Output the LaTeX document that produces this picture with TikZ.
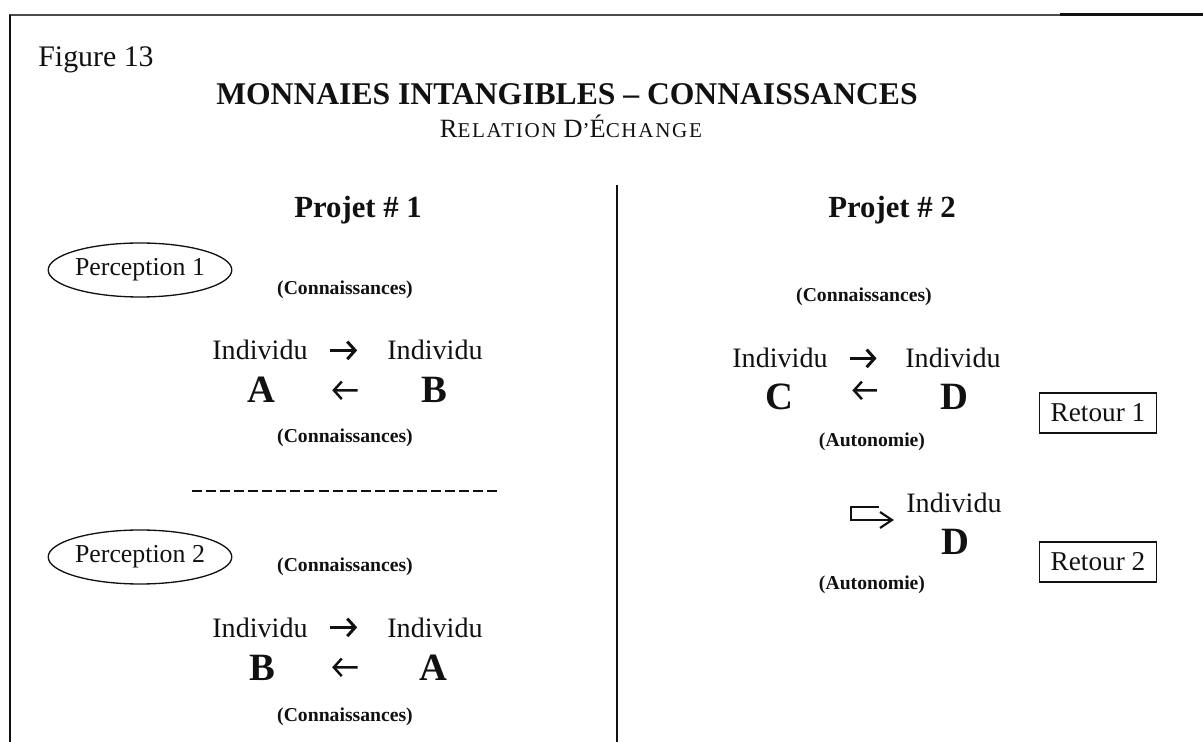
\documentclass[tikz,border=0pt]{standalone}
\usepackage{fontspec}
\setmainfont{Liberation Serif}
\newfontfamily\subfont[LetterSpace=8]{Liberation Serif}
\usepackage{xcolor}
\usetikzlibrary{positioning, arrows.meta, shapes.geometric}
\definecolor{fgInk}{HTML}{111111}
\definecolor{fgRule}{HTML}{4A4A4A}
\newcommand{\capBig}[1]{{\subfont\fontsize{15}{17}\selectfont #1}}
\newcommand{\capSml}[1]{{\subfont\fontsize{12}{14}\selectfont #1}}
\tikzset{
  lbl/.style ={inner sep=0pt, text=fgInk},
  ttl/.style ={lbl, font=\fontsize{18}{20}\selectfont\bfseries},
  proj/.style={lbl, font=\fontsize{17.5}{20}\selectfont\bfseries},
  ind/.style ={lbl, font=\fontsize{16}{18}\selectfont},
  who/.style ={lbl, font=\fontsize{22}{24}\selectfont\bfseries},
  kn/.style  ={lbl, font=\fontsize{11.2}{13}\selectfont\bfseries},
  perc/.style={ellipse, draw=fgInk, line width=0.75pt, minimum width=3.4cm, minimum height=1.08cm,
               inner sep=0pt, text=fgInk, font=\fontsize{14.7}{16}\selectfont},
  ret/.style ={draw=fgInk, line width=0.6pt, minimum width=2.34cm, minimum height=0.8cm,
               inner sep=0pt, text=fgInk, font=\fontsize{15.5}{17}\selectfont},
  fwd/.style ={-{Straight Barb[length=4.5pt,width=10pt]}, line width=1.7pt, fgInk},
  bwd/.style ={-{Straight Barb[length=4.5pt,width=10pt]}, line width=1.4pt, fgInk},
}

\begin{document}
\begin{tikzpicture}[x=0.02cm, y=-0.02cm]
\useasboundingbox (0,0) rectangle (1203,742);

% frame and separators
\draw[fgRule, line width=0.9pt] (9,15) -- (1060,15);
\draw[fgInk, line width=1.7pt] (1060,15) -- (1203,15);
\draw[fgInk, line width=0.8pt] (10,15) -- (10,742);
\draw[fgInk, line width=1.1pt] (617,185) -- (617,742);
\draw[fgInk, line width=0.8pt, dash pattern=on 5.7pt off 2.3pt] (192,491) -- (498,491);

% titles
\node[lbl, anchor=base west, font=\fontsize{17}{19}\selectfont] (fig) at (38,67) {Figure 13};
\node[ttl, anchor=base] (title) at (567,105) {MONNAIES INTANGIBLES – CONNAISSANCES};
\node[lbl, anchor=base] (sub) at (571,138)
  {\capBig{R}\capSml{ELATION }\capBig{D}\capSml{’}\capBig{É}\capSml{CHANGE}};
\node[proj, anchor=base] (pj1) at (358,218) {Projet \# 1};
\node[proj, anchor=base] (pj2) at (892,218) {Projet \# 2};

% ---- left column, perception 1 ----
\node[perc] (perc1) at (140,270) {Perception 1};
\node[kn] (kn1) at (345,290) {(Connaissances)};
\node[ind, anchor=base] (ia1) at (260,360) {Individu};
\node[ind, anchor=base] (ib1) at (435,360) {Individu};
\node[who, anchor=base] (la1) at (261,403) {A};
\node[who, anchor=base] (lb1) at (434,403) {B};
\node[kn] (kn2) at (345,438) {(Connaissances)};
\draw[fwd, shorten <=12.5pt, shorten >=17pt] (ia1) -- (ib1);
\draw[bwd, shorten <=36pt, shorten >=32.4pt] (lb1) -- (la1);

% ---- left column, perception 2 ----
\node[perc] (perc2) at (140,557) {Perception 2};
\node[kn] (kn3) at (345,567) {(Connaissances)};
\node[ind, anchor=base] (ib2) at (260,637) {Individu};
\node[ind, anchor=base] (ia2) at (435,637) {Individu};
\node[who, anchor=base] (lb2) at (262,680) {B};
\node[who, anchor=base] (la2) at (433,680) {A};
\node[kn] (kn4) at (345,717) {(Connaissances)};
\draw[fwd, shorten <=12.5pt, shorten >=17pt] (ib2) -- (ia2);
\draw[bwd, shorten <=34.7pt, shorten >=32.4pt] (la2) -- (lb2);

% ---- right column, retour 1 ----
\node[kn] (kn5) at (864,297) {(Connaissances)};
\node[ind, anchor=base] (ic1) at (780,368) {Individu};
\node[ind, anchor=base] (id1) at (953,368) {Individu};
\node[who, anchor=base] (lc1) at (779,410) {C};
\node[who, anchor=base] (ld1) at (954,410) {D};
\node[kn] (au1) at (872,442) {(Autonomie)};
\node[ret] (ret1) at (1098,413) {Retour 1};
\draw[fwd, shorten <=12.8pt, shorten >=16.2pt] (ic1) -- (id1);
\draw[bwd, shorten <=35.8pt, shorten >=33.6pt] ([yshift=4pt]ld1.west) -- ([yshift=4pt]lc1.east);

% ---- right column, retour 2 ----
\node[ind, anchor=base] (id2) at (954,513) {Individu};
\node[who, anchor=base] (ld2) at (955,555) {D};
\node[kn] (au2) at (872,585) {(Autonomie)};
\node[ret] (ret2) at (1098,562) {Retour 2};
\draw[fgInk, line width=1.2pt] (879,507) -- (851,507) -- (851,520) -- (891,520);
\draw[fgInk, line width=1.2pt, line join=miter] (880,512) -- (892,520) -- (880,528);
\end{tikzpicture}
\end{document}
